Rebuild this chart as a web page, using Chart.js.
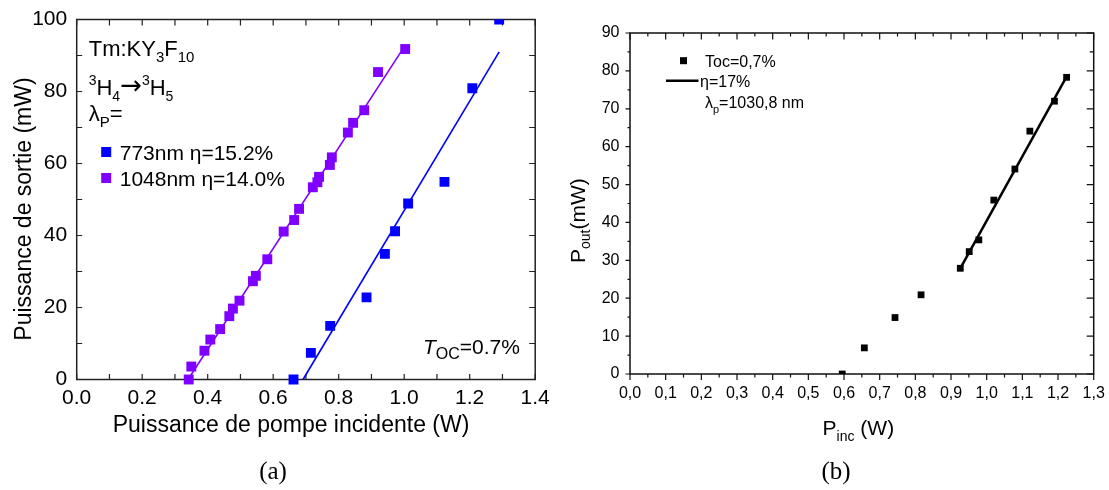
<!DOCTYPE html>
<html><head><meta charset="utf-8">
<script src="https://cdn.jsdelivr.net/npm/chart.js@4.4.1/dist/chart.umd.min.js"></script>
<style>
html,body{margin:0;padding:0;background:#fff;width:1109px;height:490px;overflow:hidden}
#wa{position:absolute;left:0;top:0;width:560px;height:490px}
#wb{position:absolute;left:560px;top:0;width:549px;height:490px}
.cap{position:absolute;font-family:"Liberation Serif","Times New Roman",serif;font-size:25px;color:#000;transform:translate(-50%,-50%);white-space:nowrap}
</style></head><body>
<div id="wa"><canvas id="ca" width="560" height="490"></canvas></div>
<div id="wb"><canvas id="cb" width="549" height="490"></canvas></div>
<div class="cap" style="left:273px;top:471px">(a)</div>
<div class="cap" style="left:836px;top:471px">(b)</div>
<script>
// ---------- Panel (a) data ----------
const pump773  = [0.662, 0.715, 0.774, 0.885, 0.941, 0.972, 1.012, 1.123, 1.208, 1.290];
const out773   = [0, 7.4, 14.9, 22.8, 34.9, 41.2, 48.9, 54.9, 80.9, 100];
const pump1048 = [0.342, 0.350, 0.390, 0.408, 0.438, 0.466, 0.477, 0.497, 0.538, 0.547, 0.582, 0.632,
                  0.664, 0.679, 0.721, 0.735, 0.740, 0.773, 0.779, 0.828, 0.844, 0.878, 0.920, 1.003];
const out1048  = [0, 3.6, 8.0, 11.1, 14.0, 17.6, 19.7, 21.9, 27.3, 28.8, 33.4, 41.1,
                  44.3, 47.4, 53.4, 54.8, 56.3, 59.6, 61.7, 68.6, 71.3, 74.8, 85.4, 91.8];
const fit773X  = [0.691, 1.290];
const fit773Y  = [0, 91.0];
const fit1048X = [0.340, 1.000];
const fit1048Y = [0, 92.4];
const xTickValsA   = [0, 0.2, 0.4, 0.6, 0.8, 1.0, 1.2, 1.4];
const xTickLabelsA = ['0.0', '0.2', '0.4', '0.6', '0.8', '1.0', '1.2', '1.4'];
const yTickValsA   = [0, 20, 40, 60, 80, 100];
const yTickLabelsA = ['0', '20', '40', '60', '80', '100'];
const xTitleA = 'Puissance de pompe incidente (W)';
const yTitleA = 'Puissance de sortie (mW)';
const legendA = ['773nm \u03b7=15.2%', '1048nm \u03b7=14.0%'];

// ---------- Panel (b) data ----------
const pumpB = [0.595, 0.657, 0.743, 0.816, 0.926, 0.951, 0.978, 1.020, 1.079, 1.121, 1.190, 1.224];
const outB  = [0, 6.9, 14.9, 20.9, 27.9, 32.3, 35.4, 45.9, 54.1, 64.1, 72.0, 78.3];
const fitBX = [0.926, 1.224];
const fitBY = [27.9, 78.5];
const xTickValsB   = [0, 0.1, 0.2, 0.3, 0.4, 0.5, 0.6, 0.7, 0.8, 0.9, 1.0, 1.1, 1.2, 1.3];
const xTickLabelsB = ['0,0','0,1','0,2','0,3','0,4','0,5','0,6','0,7','0,8','0,9','1,0','1,1','1,2','1,3'];
const yTickValsB   = [0, 10, 20, 30, 40, 50, 60, 70, 80, 90];
const yTickLabelsB = ['0','10','20','30','40','50','60','70','80','90'];
const legendB = ['Toc=0,7%', '\u03b7=17%', '=1030,8 nm'];

const BLUE = '#0000ff', PURPLE = '#8000ff', BLACK = '#000000';
const FF = '"Liberation Sans", Arial, sans-serif';
const fnt = (s, st, fam) => (st ? st + ' ' : '') + s + 'px ' + (fam || FF);
const xy = (xs, ys) => xs.map((x, i) => ({x, y: ys[i]}));

function drawRich(ctx, x, y, parts, align) {
  let w = 0;
  for (const p of parts) { ctx.font = fnt(p.s, p.st, p.f); w += ctx.measureText(p.t).width; }
  let cx = align === 'center' ? x - w / 2 : x;
  for (const p of parts) {
    ctx.font = fnt(p.s, p.st, p.f);
    ctx.fillText(p.t, cx, y + (p.dy || 0));
    cx += ctx.measureText(p.t).width;
  }
  return w;
}

// tick marks: lengths positive = inward, negative = outward
function drawFrameTicks(chart, o) {
  const {ctx, chartArea: a, scales: {x, y}} = chart;
  ctx.save();
  ctx.strokeStyle = o.color; ctx.lineWidth = o.tickW; ctx.beginPath();
  for (let i = 0; i <= o.xN; i++) {
    const px = x.getPixelForValue(o.xStep * i);
    const maj = i % o.xMaj === 0;
    const lb = maj ? o.bot[0] : o.bot[1], lt = maj ? o.top[0] : o.top[1];
    ctx.moveTo(px, a.bottom); ctx.lineTo(px, a.bottom - lb);
    ctx.moveTo(px, a.top); ctx.lineTo(px, a.top + lt);
  }
  for (let i = 0; i <= o.yN; i++) {
    const py = y.getPixelForValue(o.yStep * i);
    const maj = i % o.yMaj === 0;
    const ll = maj ? o.left[0] : o.left[1], lr = maj ? o.right[0] : o.right[1];
    ctx.moveTo(a.left, py); ctx.lineTo(a.left + ll, py);
    ctx.moveTo(a.right, py); ctx.lineTo(a.right - lr, py);
  }
  ctx.stroke();
  ctx.lineWidth = o.frameW;
  ctx.strokeRect(a.left, a.top, a.right - a.left, a.bottom - a.top);
  ctx.restore();
}

function scaleOpts(min, max, vals, labels, size, pad, fitFn) {
  return {
    type: 'linear', min, max,
    grid: {display: false, drawTicks: false},
    border: {display: false},
    ticks: {autoSkip: false, maxRotation: 0, color: '#000', padding: pad,
            font: {family: FF, size}, callback: (v, i) => labels[i]},
    afterBuildTicks: s => { s.ticks = vals.map(v => ({value: v})); },
    afterFit: fitFn
  };
}

// ---------------- Chart (a) ----------------
const pluginA = {
  id: 'pa',
  beforeDatasetsDraw(chart) {
    drawFrameTicks(chart, {color: '#222', tickW: 1.2, frameW: 1.5,
      xN: 14, xStep: 0.1, xMaj: 2, bot: [5.5, 5.5], top: [6, 6],
      yN: 10, yStep: 10, yMaj: 2, left: [5.5, 5.5], right: [6, 6]});
  },
  afterDraw(chart) {
    const {ctx, chartArea: a} = chart;
    ctx.save();
    ctx.fillStyle = '#000'; ctx.textAlign = 'left'; ctx.textBaseline = 'alphabetic';
    // axis titles
    ctx.save(); ctx.translate(31, 209); ctx.rotate(-Math.PI / 2);
    drawRich(ctx, 0, 0, [{t: yTitleA, s: 23}], 'center'); ctx.restore();
    drawRich(ctx, 291, 432, [{t: xTitleA, s: 23}], 'center');
    // annotation block
    const L = a.left + 12;
    drawRich(ctx, L, 56, [{t: 'Tm:KY', s: 22}, {t: '3', s: 15, dy: 6}, {t: 'F', s: 22}, {t: '10', s: 15, dy: 6}]);
    drawRich(ctx, L, 95, [{t: '3', s: 14, dy: -10}, {t: 'H', s: 22}, {t: '4', s: 14, dy: 6},
                          {t: '\u2192', s: 26, f: '"DejaVu Sans", sans-serif', dy: -1},
                          {t: '3', s: 14, dy: -10}, {t: 'H', s: 22}, {t: '5', s: 14, dy: 6}]);
    drawRich(ctx, L, 121, [{t: '\u03bb', s: 22}, {t: 'P', s: 15, dy: 6}, {t: '=', s: 22}]);
    const cols = [BLUE, PURPLE], ys = [152, 178];
    for (let i = 0; i < 2; i++) {
      ctx.fillStyle = cols[i]; ctx.fillRect(L + 12.5, ys[i] - 5, 10, 10);
      ctx.fillStyle = '#000';
      drawRich(ctx, L + 31, ys[i] + 7.5, [{t: legendA[i], s: 21}]);
    }
    // T_OC
    drawRich(ctx, 423, 354, [{t: 'T', s: 21, st: 'italic'}, {t: 'OC', s: 16, dy: 5}, {t: '=0.7%', s: 21}]);
    ctx.restore();
  }
};

new Chart(document.getElementById('ca'), {
  type: 'scatter',
  data: {datasets: [
    {label: '773nm', data: xy(pump773, out773), backgroundColor: BLUE, borderColor: BLUE,
     pointStyle: 'rect', pointRadius: 7, borderWidth: 0, clip: {top: 0, left: false, right: false, bottom: false}},
    {label: '1048nm', data: xy(pump1048, out1048), backgroundColor: PURPLE, borderColor: PURPLE,
     pointStyle: 'rect', pointRadius: 7, borderWidth: 0, clip: false},
    {label: 'fit 773', data: xy(fit773X, fit773Y), showLine: true, pointRadius: 0,
     borderColor: BLUE, borderWidth: 1.6, fill: false},
    {label: 'fit 1048', data: xy(fit1048X, fit1048Y), showLine: true, pointRadius: 0,
     borderColor: PURPLE, borderWidth: 1.6, fill: false}
  ]},
  options: {
    responsive: false, maintainAspectRatio: false, animation: false, events: [],
    layout: {padding: {left: 0, top: 19.5, right: 24.8, bottom: 50.5}},
    plugins: {legend: {display: false}, tooltip: {enabled: false}},
    scales: {
      x: scaleOpts(0, 1.4, xTickValsA, xTickLabelsA, 21, 6.5,
                   s => { s.height = 60; s.paddingLeft = 0; s.paddingRight = 0; }),
      y: scaleOpts(0, 100, yTickValsA, yTickLabelsA, 21, 9.5,
                   s => { s.width = 76.7; s.paddingTop = 0; s.paddingBottom = 0; })
    }
  },
  plugins: [pluginA]
});

// ---------------- Chart (b) ----------------
const pluginB = {
  id: 'pb',
  beforeDatasetsDraw(chart) {
    drawFrameTicks(chart, {color: '#111', tickW: 1.2, frameW: 1.5,
      xN: 26, xStep: 0.05, xMaj: 2, bot: [-6, -3.5], top: [6.5, 3.5],
      yN: 18, yStep: 5, yMaj: 2, left: [-4.5, -2.5], right: [7, 4]});
  },
  afterDraw(chart) {
    const {ctx, chartArea: a} = chart;
    ctx.save();
    ctx.fillStyle = '#000'; ctx.textAlign = 'left'; ctx.textBaseline = 'alphabetic';
    // y title
    ctx.save(); ctx.translate(24.5, 263); ctx.rotate(-Math.PI / 2);
    drawRich(ctx, 0, 0, [{t: 'P', s: 21}, {t: 'out', s: 14, dy: 5}, {t: '(mW)', s: 21}]); ctx.restore();
    // x title
    drawRich(ctx, 262.6, 435, [{t: 'P', s: 21}, {t: 'inc', s: 14, dy: 6}, {t: ' (W)', s: 21}]);
    // legend
    ctx.fillRect(120, 57.2, 7, 7);
    drawRich(ctx, 145, 66.5, [{t: legendB[0], s: 16}]);
    ctx.strokeStyle = '#000'; ctx.lineWidth = 2.5;
    ctx.beginPath(); ctx.moveTo(106, 80.8); ctx.lineTo(138.5, 80.8); ctx.stroke();
    drawRich(ctx, 140, 87, [{t: legendB[1], s: 16}]);
    drawRich(ctx, 145, 108, [{t: '\u03bb', s: 16}, {t: 'p', s: 11, dy: 5}, {t: legendB[2], s: 16}]);
    ctx.restore();
  }
};

new Chart(document.getElementById('cb'), {
  type: 'scatter',
  data: {datasets: [
    {label: 'Toc=0,7%', data: xy(pumpB, outB), backgroundColor: BLACK, borderColor: BLACK,
     pointStyle: 'rect', pointRadius: 4.8, borderWidth: 0, clip: {top: false, left: false, right: false, bottom: 0}},
    {label: 'fit', data: xy(fitBX, fitBY), showLine: true, pointRadius: 0,
     borderColor: BLACK, borderWidth: 2.5, fill: false}
  ]},
  options: {
    responsive: false, maintainAspectRatio: false, animation: false, events: [],
    layout: {padding: {left: 0, top: 33, right: 15.3, bottom: 56}},
    plugins: {legend: {display: false}, tooltip: {enabled: false}},
    scales: {
      x: scaleOpts(0, 1.3, xTickValsB, xTickLabelsB, 16, 9.5,
                   s => { s.height = 60; s.paddingLeft = 0; s.paddingRight = 0; }),
      y: scaleOpts(0, 90, yTickValsB, yTickLabelsB, 16, 10.5,
                   s => { s.width = 70; s.paddingTop = 0; s.paddingBottom = 0; })
    }
  },
  plugins: [pluginB]
});
</script>
</body></html>
